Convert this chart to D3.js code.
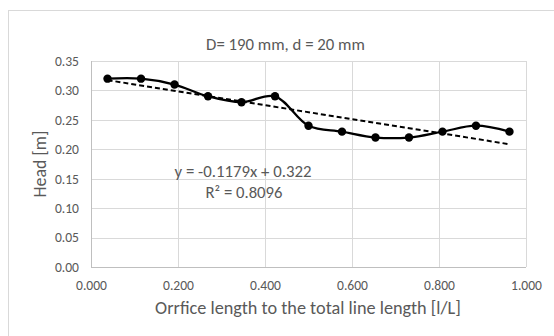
<!DOCTYPE html>
<html><head><meta charset="utf-8">
<script src="https://cdn.jsdelivr.net/npm/d3@7"></script>
<style>html,body{margin:0;padding:0;background:#fff;}svg{display:block;}</style>
</head><body>
<script>
const xValues = [0.038, 0.115, 0.192, 0.269, 0.346, 0.423, 0.500, 0.577, 0.654, 0.731, 0.808, 0.885, 0.962];
const headValues = [0.32, 0.32, 0.31, 0.29, 0.28, 0.29, 0.24, 0.23, 0.22, 0.22, 0.23, 0.24, 0.23];
const xTicks = [0, 0.2, 0.4, 0.6, 0.8, 1.0];
const yTicks = [0, 0.05, 0.10, 0.15, 0.20, 0.25, 0.30, 0.35];
const trendSlope = -0.1179, trendIntercept = 0.322;
const titleText = "D= 190 mm, d = 20 mm";
const xLabel = "Orrfice length to the total line length [l/L]";
const yLabel = "Head [m]";
const eqText = "y = -0.1179x + 0.322";
const r2Text = "R² = 0.8096";

const W = 554, H = 336;
const pLeft = 91, pRight = 526, pTop = 61, pBottom = 267;
const font = "Carlito, Lato, sans-serif";
const grey = "#595959";

const svg = d3.select("body").append("svg").attr("width", W).attr("height", H);
svg.append("rect").attr("x", 8.5).attr("y", 10.5).attr("width", 560).attr("height", 340)
  .attr("fill", "#fff").attr("stroke", "#d9d9d9");

const x = d3.scaleLinear().domain([0, 1]).range([pLeft, pRight]);
const y = d3.scaleLinear().domain([0, 0.35]).range([pBottom, pTop]);

// size a text element so its width matches a target width
function fit(sel, target) {
  const base = 20;
  sel.attr("font-size", base);
  const len = sel.node().getComputedTextLength();
  sel.attr("font-size", base * target / len);
  return sel;
}

svg.append("g").selectAll("line").data(yTicks).join("line")
  .attr("x1", pLeft).attr("x2", pRight)
  .attr("y1", d => Math.round(y(d)) + 0.5).attr("y2", d => Math.round(y(d)) + 0.5)
  .attr("stroke", "#d9d9d9").attr("stroke-width", 1);
svg.append("g").selectAll("line").data(xTicks).join("line")
  .attr("y1", pTop).attr("y2", pBottom)
  .attr("x1", d => Math.round(x(d)) + 0.5).attr("x2", d => Math.round(x(d)) + 0.5)
  .attr("stroke", "#d9d9d9").attr("stroke-width", 1);
svg.append("line").attr("x1", pLeft).attr("x2", pRight).attr("y1", Math.round(y(0)) + 0.5).attr("y2", Math.round(y(0)) + 0.5).attr("stroke", "#bfbfbf");
svg.append("line").attr("x1", Math.round(x(0)) + 0.5).attr("x2", Math.round(x(0)) + 0.5).attr("y1", pTop).attr("y2", pBottom).attr("stroke", "#bfbfbf");

// measure tick font size so "0.000" is ~31px wide
const probe = svg.append("text").attr("font-family", font).text("0.000");
fit(probe, 31);
const tickFs = +probe.attr("font-size");
probe.remove();

const yAxis = d3.axisLeft(y).tickValues(yTicks).tickFormat(d3.format(".2f")).tickSize(0).tickPadding(12);
const gy = svg.append("g").attr("transform", `translate(${pLeft},0)`).call(yAxis);
gy.select(".domain").remove();
gy.selectAll("text").attr("font-family", font).attr("font-size", tickFs).attr("fill", grey);

const xAxis = d3.axisBottom(x).tickValues(xTicks).tickFormat(d3.format(".3f")).tickSize(0)
  .tickPadding(289.5 - pBottom - 0.71 * tickFs);
const gx = svg.append("g").attr("transform", `translate(0,${pBottom})`).call(xAxis);
gx.select(".domain").remove();
gx.selectAll("text").attr("font-family", font).attr("font-size", tickFs).attr("fill", grey);

fit(svg.append("text").attr("x", 285.5).attr("y", 50).attr("text-anchor", "middle")
  .attr("font-family", font).attr("fill", grey).text(titleText), 159);
fit(svg.append("text").attr("x", 308).attr("y", 314).attr("text-anchor", "middle")
  .attr("font-family", font).attr("fill", grey).text(xLabel), 306);
fit(svg.append("text").attr("transform", `translate(46,164) rotate(-90)`).attr("text-anchor", "middle")
  .attr("font-family", font).attr("fill", grey).text(yLabel), 67);

const pts = xValues.map((v, i) => [v, headValues[i]]);

const x0 = xValues[0], x1 = xValues[xValues.length - 1];
svg.append("line")
  .attr("x1", x(x0)).attr("y1", y(trendSlope * x0 + trendIntercept))
  .attr("x2", x(x1)).attr("y2", y(trendSlope * x1 + trendIntercept))
  .attr("stroke", "#000").attr("stroke-width", 2).attr("stroke-dasharray", "5,3");

const line = d3.line().x(d => x(d[0])).y(d => y(d[1])).curve(d3.curveCatmullRom.alpha(0.5));
svg.append("path").datum(pts).attr("d", line).attr("fill", "none")
  .attr("stroke", "#000").attr("stroke-width", 2.25);
svg.append("g").selectAll("circle").data(pts).join("circle")
  .attr("cx", d => x(d[0])).attr("cy", d => y(d[1])).attr("r", 4.2).attr("fill", "#000");

fit(svg.append("text").attr("x", 243).attr("y", 176.5).attr("text-anchor", "middle")
  .attr("font-family", font).attr("fill", grey).text(eqText), 137);
fit(svg.append("text").attr("x", 244).attr("y", 198).attr("text-anchor", "middle")
  .attr("font-family", font).attr("fill", grey).text(r2Text), 77);
</script>
</body></html>
